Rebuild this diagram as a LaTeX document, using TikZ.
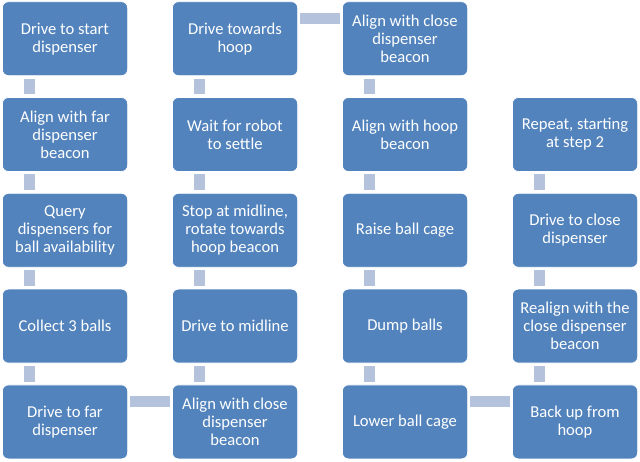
\documentclass[tikz,border=0pt]{standalone}
\usepackage{fontspec}
\setmainfont{Carlito}
\usepackage{xcolor}
\usepackage{tikz}
\usetikzlibrary{positioning,calc}
\definecolor{boxblue}{HTML}{5283BC}
\definecolor{linkblue}{HTML}{B5C2DB}

\begin{document}
\begin{tikzpicture}[x=1pt, y=-1pt,
    stepbox/.style={fill=boxblue, draw=white, line width=0.8pt, rounded corners=6pt,
        minimum width=125.3pt, minimum height=74pt, inner sep=0pt, align=center,
        text=white, font=\fontsize{16.6}{18}\selectfont},
    link/.style={linkblue, line width=11pt}]
    \useasboundingbox (0,0) rectangle (640,462);

    % Column one, going down
    \node [stepbox] (DriveStart) at (65, 38.7) {Drive to start\\dispenser};
    \node [stepbox] (AlignFar) at (65, 134.5) {Align with far\\dispenser\\beacon};
    \node [stepbox] (Query) at (65, 230.3) {Query\\dispensers for\\ball availability};
    \node [stepbox] (Collect) at (65, 326.1) {Collect 3 balls};
    \node [stepbox] (DriveFar) at (65, 421.9) {Drive to far\\dispenser};

    % Column two, going up
    \node [stepbox] (AlignCloseLow) at (235, 421.9) {Align with close\\dispenser\\beacon};
    \node [stepbox] (DriveMid) at (235, 326.1) {Drive to midline};
    \node [stepbox] (StopMid) at (235, 230.3) {Stop at midline,\\rotate towards\\hoop beacon};
    \node [stepbox] (Settle) at (235, 134.5) {Wait for robot\\to settle};
    \node [stepbox] (DriveHoop) at (235, 38.7) {Drive towards\\hoop};

    % Column three, going down
    \node [stepbox] (AlignCloseTop) at (405, 38.7) {Align with close\\dispenser\\beacon};
    \node [stepbox] (AlignHoop) at (405, 134.5) {Align with hoop\\beacon};
    \node [stepbox] (RaiseCage) at (405, 230.3) {Raise ball cage};
    \node [stepbox] (Dump) at (405, 326.1) {Dump balls};
    \node [stepbox] (LowerCage) at (405, 421.9) {Lower ball cage};

    % Column four, going up
    \node [stepbox] (BackUp) at (575, 421.9) {Back up from\\hoop};
    \node [stepbox] (Realign) at (575, 326.1) {Realign with the\\close dispenser\\beacon};
    \node [stepbox] (DriveClose) at (575, 230.3) {Drive to close\\dispenser};
    \node [stepbox] (Repeat) at (575, 134.5) {Repeat, starting\\at step 2};

    % Vertical links
    \foreach \a/\b in {DriveStart/AlignFar, AlignFar/Query, Query/Collect, Collect/DriveFar,
        DriveHoop/Settle, Settle/StopMid, StopMid/DriveMid, DriveMid/AlignCloseLow,
        AlignCloseTop/AlignHoop, AlignHoop/RaiseCage, RaiseCage/Dump, Dump/LowerCage,
        Repeat/DriveClose, DriveClose/Realign, Realign/BackUp}
        \draw [link] ([xshift=27.2pt, yshift=-2.6pt]\a.south west) -- ([xshift=27.2pt, yshift=2.6pt]\b.north west);

    % Horizontal links
    \foreach \a/\b in {DriveFar/AlignCloseLow, DriveHoop/AlignCloseTop, LowerCage/BackUp}
        \draw [link] ([xshift=2.3pt, yshift=-17.1pt]\a.north east) -- ([xshift=-2.3pt, yshift=-17.1pt]\b.north west);
\end{tikzpicture}
\end{document}
